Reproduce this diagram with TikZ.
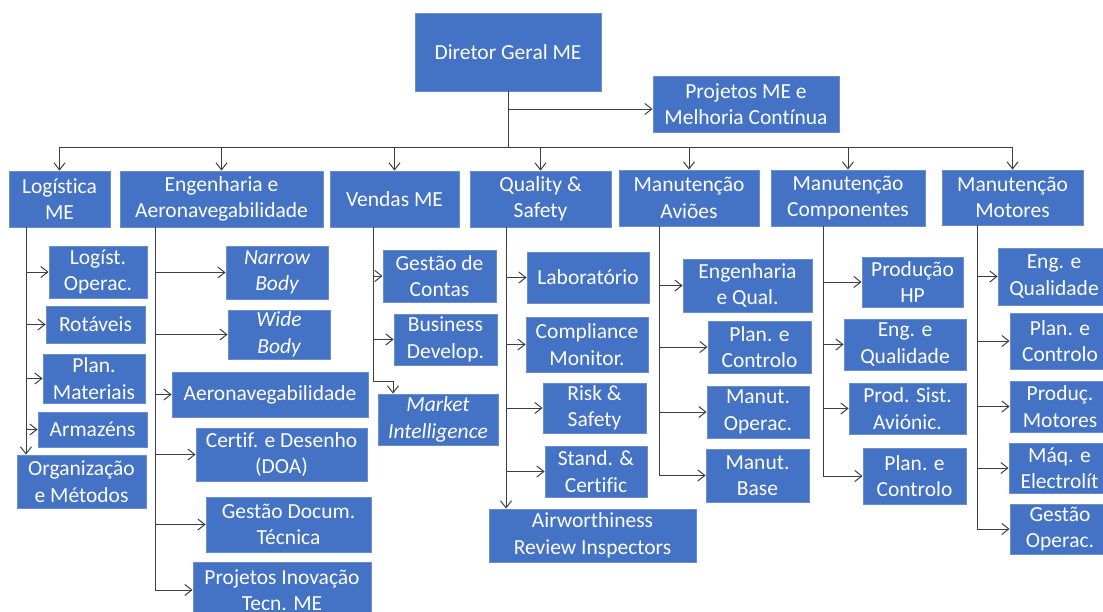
\documentclass[tikz,border=0pt]{standalone}
\usepackage{fontspec}
\setmainfont{Carlito}[Ligatures=NoCommon]
\usetikzlibrary{arrows.meta}
\definecolor{boxblue}{HTML}{4472C4}
\definecolor{boxedge}{HTML}{6A8DCF}
\definecolor{linegray}{HTML}{3F3F3F}
\tikzset{
  box/.style={fill=boxblue, draw=boxedge, line width=0.8pt, text=white,
    align=center, inner sep=0pt,
    font=\fontsize{21.5}{26.5}\selectfont},
  ln/.style={draw=linegray, line width=1pt},
  arr/.style={ln, -{Straight Barb[length=7pt,width=11pt]}}
}
% org box given by its corners: name, x1, y1, x2, y2, text
\newcommand\obox[6]{%
  \node[box, minimum width={(#4-#2)*1pt}, minimum height={(#5-#3)*1pt}]
    (#1) at ({(#2+#4)/2},{(#3+#5)/2}) {#6};}
\begin{document}
\begin{tikzpicture}[x=1pt,y=-1pt]
\useasboundingbox (0,0) rectangle (1103,611);
\clip (0,0) rectangle (1103,611);

% top level
\obox{dir}{415}{13}{601}{91}{Diretor Geral ME}
\obox{pj}{653}{76}{839}{132}{Projetos ME e\\Melhoria Contínua}

% departments
\obox{lg}{9}{171}{110}{227}{Logística\\ME}
\obox{en}{120}{171}{323}{227}{Engenharia e\\Aeronavegabilidade}
\obox{vd}{330}{171}{459}{227}{Vendas ME}
\obox{qs}{470}{171}{611}{227}{Quality \&\\Safety}
\obox{ma}{619}{170}{759}{226}{Manutenção\\Aviões}
\obox{mc}{771}{170}{925}{226}{Manutenção\\Componentes}
\obox{mm}{942}{170}{1083}{225}{Manutenção\\Motores}

% Logística
\obox{l1}{49}{246}{147}{298}{Logíst.\\Operac.}
\obox{l2}{46}{306}{145}{343}{Rotáveis}
\obox{l3}{43}{354}{145}{403}{Plan.\\Materiais}
\obox{l4}{38}{412}{147}{447}{Armazéns}
\obox{l5}{17}{455}{146}{508}{Organização\\e Métodos}

% Engenharia
\obox{e1}{226}{246}{328}{299}{\itshape Narrow\\\itshape Body}
\obox{e2}{228}{310}{330}{359}{\itshape Wide\\\itshape Body}
\obox{e3}{172}{372}{368}{417}{Aeronavegabilidade}
\obox{e4}{196}{428}{367}{481}{Certif. e Desenho\\(DOA)}
\obox{e5}{206}{497}{371}{552}{Gestão Docum.\\Técnica}
\obox{e6}{193}{562}{371}{618}{Projetos Inovação\\Tecn. ME}

% Vendas
\obox{v1}{383}{250}{496}{302}{Gestão de\\Contas}
\obox{v2}{394}{314}{497}{365}{Business\\Develop.}
\obox{v3}{378}{394}{498}{445}{\itshape Market\\\itshape Intelligence}

% Quality
\obox{q1}{527}{252}{649}{303}{Laboratório}
\obox{q2}{526}{317}{648}{372}{Compliance\\Monitor.}
\obox{q3}{543}{383}{646}{433}{Risk \&\\Safety}
\obox{q4}{545}{446}{647}{497}{Stand. \&\\Certific}
\obox{q5}{489}{509}{696}{562}{Airworthiness\\Review Inspectors}

% Manutenção Aviões
\obox{a1}{683}{259}{812}{312}{Engenharia\\e Qual.}
\obox{a2}{708}{321}{811}{373}{Plan. e\\Controlo}
\obox{a3}{707}{386}{809}{438}{Manut.\\Operac.}
\obox{a4}{706}{449}{809}{502}{Manut.\\Base}

% Manutenção Componentes
\obox{c1}{862}{257}{963}{307}{Produção\\HP}
\obox{c2}{844}{319}{966}{370}{Eng. e\\Qualidade}
\obox{c3}{849}{383}{966}{434}{Prod. Sist.\\Aviónic.}
\obox{c4}{863}{448}{966}{504}{Plan. e\\Controlo}

% Manutenção Motores
\obox{m1}{998}{248}{1110}{305}{Eng. e\\Qualidade}
\obox{m2}{1010}{313}{1110}{369}{Plan. e\\Controlo}
\obox{m3}{1010}{381}{1110}{432}{Produç.\\Motores}
\obox{m4}{1009}{443}{1110}{493}{Máq. e\\Electrolít}
\obox{m5}{1010}{504}{1110}{554}{Gestão\\Operac.}

% connectors from the director
\coordinate (bus) at (509,147);
\draw[ln] (dir.south) -- (dir.south |- bus);
\draw[arr] ([yshift=-5pt]pj.west -| dir.south) -- ([yshift=-5pt]pj.west);
\draw[ln] (lg.north |- bus) -- (mm.north |- bus);
\foreach \d in {lg,en,vd,qs,ma,mc,mm}
  \draw[arr] (\d.north |- bus) -- (\d.north);

% spines of each department
\coordinate (sL) at (26,227);
\coordinate (sE) at (155,227);
\coordinate (sV) at (373,227);
\coordinate (sQ) at (506,227);
\coordinate (sA) at (659,226);
\coordinate (sC) at (823,226);
\coordinate (sM) at (977,225);

\draw[arr] (sL) -- (sL |- l5.north);
\foreach \c in {l1,l2,l3,l4}
  \draw[arr] (sL |- \c.west) -- (\c.west);

\draw[ln] (sE) -- (sE |- e6.west);
\foreach \c in {e1,e2,e3,e4,e5,e6}
  \draw[arr] (sE |- \c.west) -- (\c.west);

\coordinate (mk) at (393,381);
\draw[arr] (sV) -- (sV |- mk) -- (mk) -- (mk |- v3.north);
\foreach \c in {v1,v2}
  \draw[arr] (sV |- \c.west) -- (\c.west);

\draw[arr] (sQ) -- (sQ |- q5.north);
\foreach \c in {q1,q2,q3,q4}
  \draw[arr] (sQ |- \c.west) -- (\c.west);

\draw[ln] (sA) -- (sA |- a4.west);
\foreach \c in {a1,a2,a3,a4}
  \draw[arr] (sA |- \c.west) -- (\c.west);

\draw[ln] (sC) -- (sC |- c4.west);
\foreach \c in {c1,c2,c3,c4}
  \draw[arr] (sC |- \c.west) -- (\c.west);

\draw[ln] (sM) -- (sM |- m5.west);
\foreach \c in {m1,m2,m3,m4,m5}
  \draw[arr] (sM |- \c.west) -- (\c.west);
\end{tikzpicture}
\end{document}
